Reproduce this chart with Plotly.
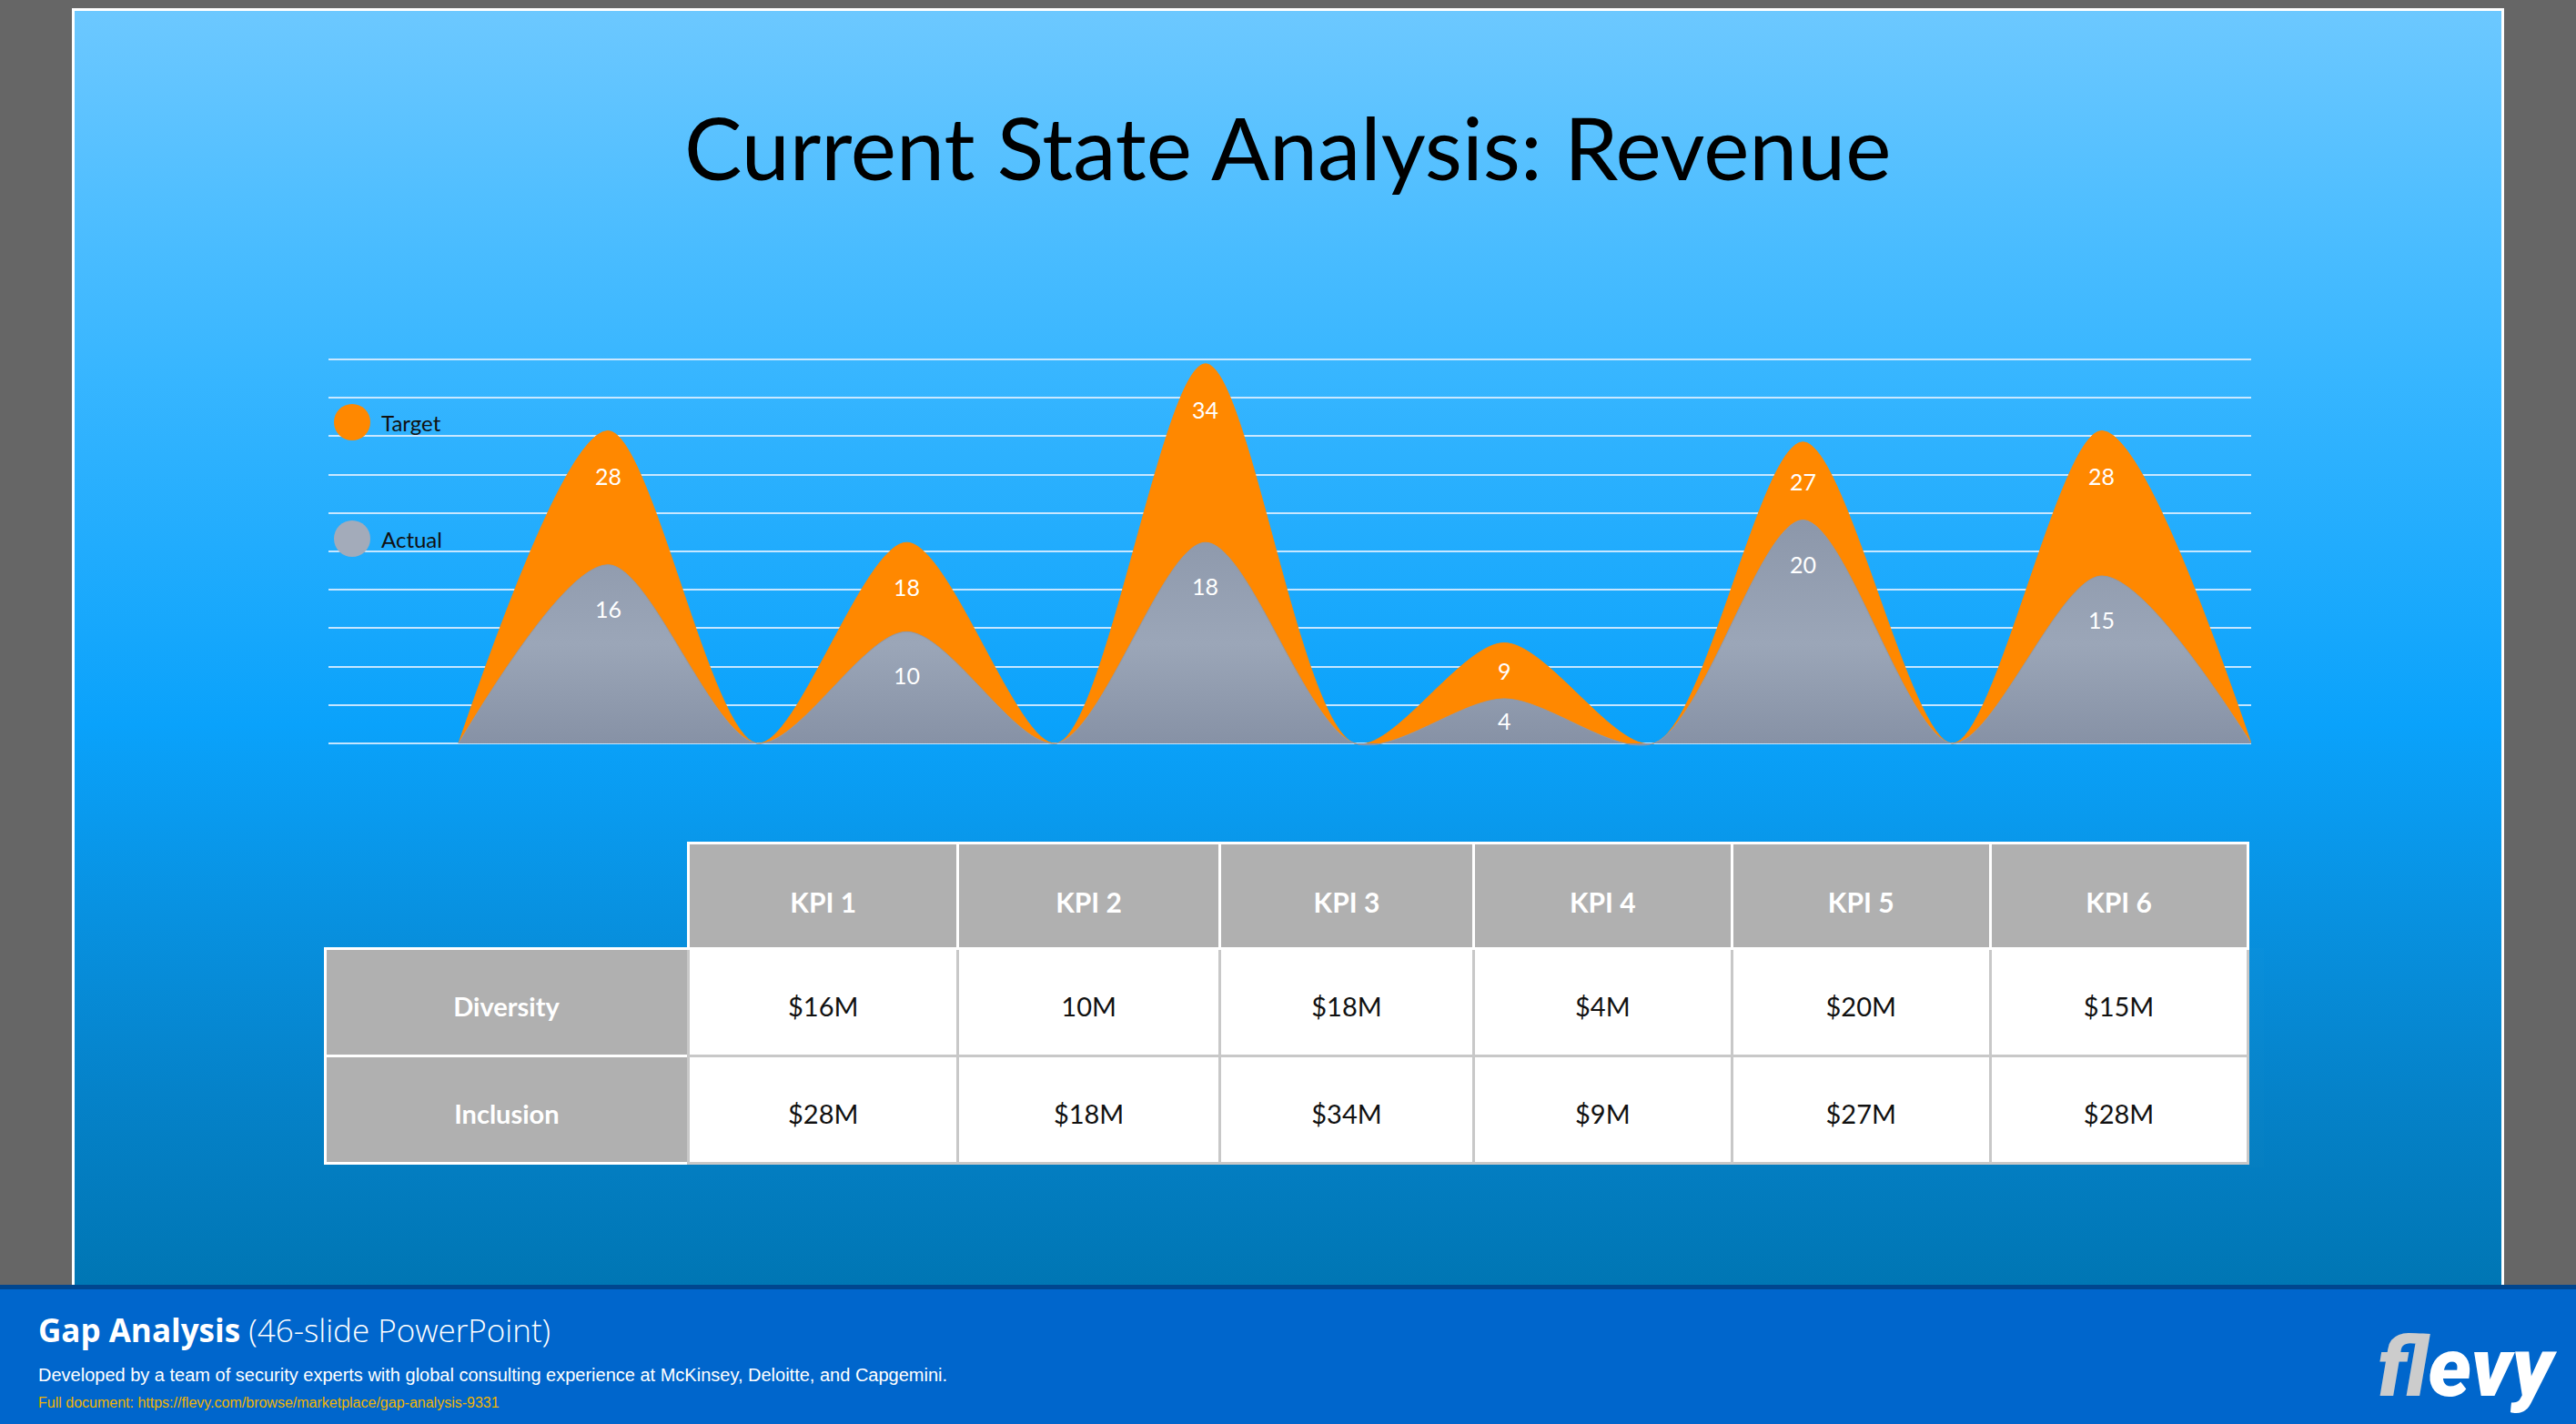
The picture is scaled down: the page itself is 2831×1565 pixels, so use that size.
import base64
import plotly.graph_objects as go

W, H = 2831, 1565

# ---------------- data ----------------
kpis = ["KPI 1", "KPI 2", "KPI 3", "KPI 4", "KPI 5", "KPI 6"]
target = [28, 18, 34, 9, 27, 28]
actual = [16, 10, 18, 4, 20, 15]
series_names = ["Target", "Actual"]
row_labels = ["Diversity", "Inclusion"]
diversity_text = ["$16M", "10M", "$18M", "$4M", "$20M", "$15M"]
inclusion_text = ["$28M", "$18M", "$34M", "$9M", "$27M", "$28M"]
title_text = "Current State Analysis: Revenue"

# ---------------- helpers ----------------
def px(x):
    return x / W


def py(y):
    return 1 - y / H


def peak_path(values):
    """Peaks at category positions, touching the baseline between categories."""
    xs, ys = [-0.5], [0]
    for i, v in enumerate(values):
        xs += [i, i + 0.5]
        ys += [v, 0]
    return xs, ys


def vcenter(s):
    # push single-line table text down one line so it sits mid-cell
    return "&nbsp;<br>" + s


ORANGE = "#ff8800"
GRAY = "#a3abba"

# plot geometry (pixels)
PLOT_L, PLOT_R = 361, 2474
VALLEY_L = 504
Y_BOT_PX, Y_TOP_PX = 819.45, 392.5
Y_RANGE = [-0.2, 34.6]
PXU = (Y_BOT_PX - Y_TOP_PX) / (Y_RANGE[1] - Y_RANGE[0])
n = len(kpis)
x_unit = (PLOT_R - VALLEY_L) / n
x_range = [-0.5 - (VALLEY_L - PLOT_L) / x_unit, n - 0.5]

# ---------------- background (slide + footer) ----------------
svg = f'''<svg xmlns="http://www.w3.org/2000/svg" width="{W}" height="{H}" viewBox="0 0 {W} {H}" preserveAspectRatio="none">
<defs><linearGradient id="g" x1="0" y1="0" x2="0" y2="1">
<stop offset="0" stop-color="#6cc8ff"/>
<stop offset="0.28" stop-color="#38b6ff"/>
<stop offset="0.56" stop-color="#0aa2fb"/>
<stop offset="0.71" stop-color="#0891e0"/>
<stop offset="0.85" stop-color="#0582c9"/>
<stop offset="1" stop-color="#0076b4"/>
</linearGradient></defs>
<rect x="0" y="0" width="{W}" height="{H}" fill="#666666"/>
<rect x="79" y="9" width="2673" height="1404" fill="#ffffff"/>
<rect x="82" y="12" width="2667" height="1400" fill="url(#g)"/>
<rect x="0" y="1412" width="{W}" height="5" fill="#00468f"/>
<rect x="0" y="1417" width="{W}" height="148" fill="#0066cc"/>
</svg>'''
bg_src = "data:image/svg+xml;base64," + base64.b64encode(svg.encode()).decode()

fig = go.Figure()

# ---------------- peak chart ----------------
tx, ty = peak_path(target)
ax_, ay = peak_path(actual)
fig.add_trace(go.Scatter(
    x=tx, y=ty, mode="lines", name=series_names[0],
    line=dict(shape="spline", smoothing=0.85, color=ORANGE, width=1),
    fill="tozeroy", fillcolor=ORANGE, hoverinfo="skip", showlegend=False,
))
fig.add_trace(go.Scatter(
    x=ax_, y=ay, mode="lines", name=series_names[1],
    line=dict(shape="spline", smoothing=0.85, color="#8e99ab", width=1),
    fill="tozeroy",
    fillgradient=dict(type="vertical",
                      colorscale=[[0, "#8691a5"], [0.45, "#9ba6b8"], [1, "#8c97aa"]]),
    hoverinfo="skip", showlegend=False,
))

annotations = []
for i, (t, a) in enumerate(zip(target, actual)):
    t_shift = min(50, (t - a) * PXU / 2)
    a_shift = min(48, a * PXU * 0.5)
    annotations.append(dict(x=i, y=t, xref="x", yref="y", text=str(t), showarrow=False,
                            yshift=-t_shift, font=dict(family="Lato", size=25, color="white")))
    annotations.append(dict(x=i, y=a, xref="x", yref="y", text=str(a), showarrow=False,
                            yshift=-a_shift, font=dict(family="Lato", size=25, color="white")))

# legend
shapes = []
legend_items = [(series_names[0], ORANGE, 464), (series_names[1], GRAY, 592)]
for name, col, cy in legend_items:
    shapes.append(dict(type="circle", xref="paper", yref="paper",
                       x0=px(367), x1=px(407), y0=py(cy + 20), y1=py(cy - 20),
                       fillcolor=col, line=dict(width=0)))
    annotations.append(dict(x=px(417), y=py(cy), xref="paper", yref="paper", text=name,
                            showarrow=False, xanchor="left", yanchor="middle",
                            font=dict(family="Lato", size=24, color="#111111")))

# title
annotations.append(dict(x=px(1415), y=py(161), xref="paper", yref="paper", text=title_text,
                        showarrow=False, xanchor="center", yanchor="middle",
                        font=dict(family="Lato", size=95, color="#000000")))

# ---------------- table ----------------
hdr_fill = ["rgba(0,0,0,0)"] + ["#b0b0b0"] * n
hdr_line = ["rgba(0,0,0,0)"] + ["#ffffff"] * n
cell_values = [[vcenter("<b>" + r + "</b>") for r in row_labels]] + [
    [vcenter(d), vcenter(c)] for d, c in zip(diversity_text, inclusion_text)]
cell_fill = [["#b0b0b0"] * len(row_labels)] + [["#ffffff"] * len(row_labels)] * n
cell_line = ["#ffffff"] + ["#c8c8c8"] * n

fig.add_trace(go.Table(
    domain=dict(x=[px(357), px(2471)], y=[py(1283), py(926)]),
    columnwidth=[400, 296, 288, 279, 284, 284, 283],
    header=dict(values=[""] + [vcenter(k) for k in kpis], height=116,
                fill=dict(color=hdr_fill), line=dict(color=hdr_line, width=3),
                align="center",
                font=dict(family="Lato", size=30, color="white", weight="bold")),
    cells=dict(values=cell_values, height=118,
               fill=dict(color=cell_fill), line=dict(color=cell_line, width=3),
               align="center",
               font=dict(family="Lato", size=[29] + [29] * n,
                         color=["#ffffff"] + ["#111111"] * n)),
))

# ---------------- footer ----------------
annotations += [
    dict(x=px(40), y=py(1461), xref="paper", yref="paper", xanchor="left", yanchor="middle",
         showarrow=False,
         text="<b>Gap Analysis</b> <span style='font-weight:300'>(46-slide PowerPoint)</span>",
         font=dict(family="Open Sans", size=35, color="white")),
    dict(x=px(40), y=py(1511), xref="paper", yref="paper", xanchor="left", yanchor="middle",
         showarrow=False,
         text="Developed by a team of security experts with global consulting experience at McKinsey, Deloitte, and Capgemini.",
         font=dict(family="Liberation Sans", size=20, color="white")),
    dict(x=px(40), y=py(1541), xref="paper", yref="paper", xanchor="left", yanchor="middle",
         showarrow=False,
         text="Full document: https://flevy.com/browse/marketplace/gap-analysis-9331",
         font=dict(family="Liberation Sans", size=16, color="#f0b400")),
    dict(x=px(2812), y=py(1503), xref="paper", yref="paper", xanchor="right", yanchor="middle",
         showarrow=False,
         text="<span style='color:#cccccc'>f</span>levy",
         font=dict(family="Roboto", size=90, color="white", weight=900, style="italic")),
]

fig.update_layout(
    width=W, height=H, autosize=False,
    margin=dict(l=0, r=0, t=0, b=0, pad=0),
    paper_bgcolor="#666666", plot_bgcolor="rgba(0,0,0,0)",
    showlegend=False,
    images=[dict(source=bg_src, xref="paper", yref="paper", x=0, y=1, sizex=1, sizey=1,
                 xanchor="left", yanchor="top", sizing="stretch", layer="below")],
    xaxis=dict(domain=[px(PLOT_L), px(PLOT_R)], range=x_range, visible=False,
               fixedrange=True),
    yaxis=dict(domain=[py(Y_BOT_PX), py(Y_TOP_PX)], range=Y_RANGE, tick0=0, dtick=3.44,
               showgrid=True, gridcolor="rgba(228,241,255,0.85)", gridwidth=2,
               zeroline=False, showticklabels=False, ticks="", showline=False,
               fixedrange=True),
    shapes=shapes,
    annotations=annotations,
)

fig.write_html("out.html")
